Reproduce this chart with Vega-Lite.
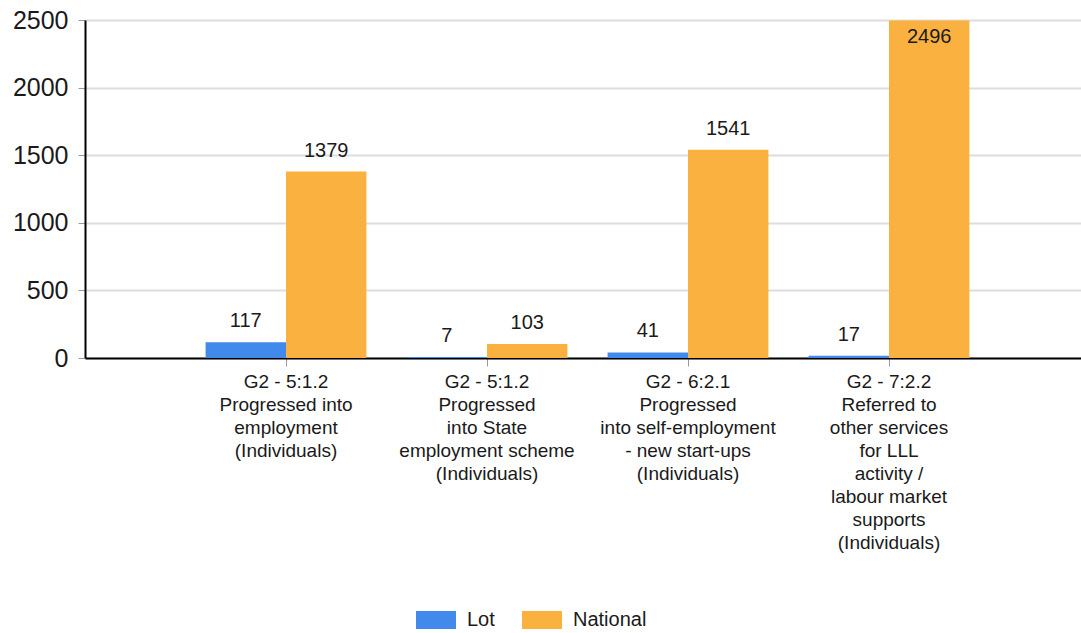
{
  "$schema": "https://vega.github.io/schema/vega-lite/v6.json",
  "width": 1005,
  "height": 338,
  "autosize": {"type": "none"},
  "padding": {"left": 85, "top": 20, "right": 0, "bottom": 275},
  "background": "white",
  "config": {
    "view": {"stroke": null},
    "font": "Liberation Sans",
    "axis": {"labelFont": "Liberation Sans", "labelColor": "#1a1a1a"}
  },
  "data": {
    "values": [
      {"category": "G2 - 5:1.2|Progressed into|employment|(Individuals)", "series": "Lot", "value": 117},
      {"category": "G2 - 5:1.2|Progressed into|employment|(Individuals)", "series": "National", "value": 1379},
      {"category": "G2 - 5:1.2|Progressed|into State|employment scheme|(Individuals)", "series": "Lot", "value": 7},
      {"category": "G2 - 5:1.2|Progressed|into State|employment scheme|(Individuals)", "series": "National", "value": 103},
      {"category": "G2 - 6:2.1|Progressed|into self-employment|- new start-ups|(Individuals)", "series": "Lot", "value": 41},
      {"category": "G2 - 6:2.1|Progressed|into self-employment|- new start-ups|(Individuals)", "series": "National", "value": 1541},
      {"category": "G2 - 7:2.2|Referred to|other services|for LLL|activity /|labour market|supports|(Individuals)", "series": "Lot", "value": 17},
      {"category": "G2 - 7:2.2|Referred to|other services|for LLL|activity /|labour market|supports|(Individuals)", "series": "National", "value": 2496}
    ]
  },
  "encoding": {
    "x": {
      "field": "category",
      "type": "nominal",
      "sort": null,
      "title": null,
      "scale": {"paddingInner": 0.2, "paddingOuter": 0.6},
      "axis": {
        "labelExpr": "split(datum.label, '|')",
        "labelAngle": 0,
        "labelFontSize": 19,
        "labelLineHeight": 23,
        "labelPadding": 6,
        "labelLimit": 400,
        "domainColor": "#000000",
        "domainWidth": 2,
        "tickColor": "#999999",
        "tickSize": 8,
        "grid": false
      }
    },
    "xOffset": {"field": "series", "type": "nominal", "sort": ["Lot", "National"]},
    "y": {
      "field": "value",
      "type": "quantitative",
      "title": null,
      "scale": {"domain": [0, 2500], "nice": false},
      "axis": {
        "values": [0, 500, 1000, 1500, 2000, 2500],
        "format": "d",
        "labelFontSize": 25,
        "labelPadding": 10,
        "domainColor": "#000000",
        "domainWidth": 2,
        "tickColor": "#999999",
        "tickSize": 7,
        "gridColor": "#dddddd",
        "gridWidth": 2
      }
    }
  },
  "layer": [
    {
      "mark": {"type": "bar"},
      "encoding": {
        "color": {
          "field": "series",
          "type": "nominal",
          "scale": {"domain": ["Lot", "National"], "range": ["#4189eb", "#fbb13f"]},
          "legend": {
            "title": null,
            "orient": "none",
            "direction": "horizontal",
            "legendX": 331,
            "legendY": 580,
            "padding": 0,
            "symbolType": "M-1,-0.45H1V0.45H-1Z",
            "symbolSize": 1600,
            "symbolStrokeWidth": 0,
            "labelFontSize": 20,
            "labelFont": "Liberation Sans",
            "labelColor": "#1a1a1a",
            "labelOffset": 11,
            "columnPadding": 27
          }
        }
      }
    },
    {
      "transform": [{"filter": "datum.value < 2400"}],
      "mark": {"type": "text", "baseline": "alphabetic", "dy": -15, "fontSize": 20, "color": "#1a1a1a"},
      "encoding": {"text": {"field": "value", "type": "quantitative"}}
    },
    {
      "transform": [{"filter": "datum.value >= 2400"}],
      "mark": {"type": "text", "baseline": "top", "dy": 6, "fontSize": 20, "color": "#1a1a1a"},
      "encoding": {"text": {"field": "value", "type": "quantitative"}}
    }
  ]
}
